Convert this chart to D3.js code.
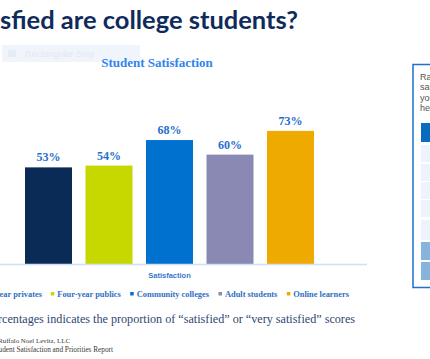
<!DOCTYPE html>
<html><head><meta charset="utf-8">
<script src="https://cdn.jsdelivr.net/npm/d3@7"></script>
<style>html,body{margin:0;padding:0;background:#fff;overflow:hidden}svg{display:block}</style>
</head><body>
<script>
const categories = ["Four-year privates","Four-year publics","Community colleges","Adult students","Online learners"];
const values = [53, 54, 68, 60, 73];
const colors = ["#0b2b57","#c6d800","#0071cf","#8a89b3","#eeaa00"];
const axisLabel = "Satisfaction";
const chartTitle = "Student Satisfaction";
const slideTitle = "How satisfied are college students?";
const footnote = "Percentages indicates the proportion of \u201csatisfied\u201d or \u201cvery satisfied\u201d scores";
const sourceLines = ["Source: Ruffalo Noel Levitz, LLC", "National Student Satisfaction and Priorities Report"];
const panelText = ["Rate your", "satisfaction", "your", "help"];

const W = 430, H = 359;
const svg = d3.select("body").append("svg").attr("width", W).attr("height", H);

// slide title, fitted so the visible part spans to x=298
const visiblePart = "sfied are college students?";
const tmp = svg.append("text").attr("font-family","Lato").attr("font-weight","bold").attr("font-size",24).text(visiblePart);
const wv = tmp.node().getComputedTextLength(); tmp.remove();
const tSize = 24 * 298 / wv;
svg.append("text").attr("x", 298).attr("y", 29).attr("text-anchor","end")
  .attr("font-family","Lato").attr("font-weight","bold").attr("font-size", tSize)
  .attr("fill","#0f2b5b").text(slideTitle);

// faint snip box
svg.append("rect").attr("x",2).attr("y",45).attr("width",138).attr("height",17).attr("fill","#f0f4fb");
svg.append("rect").attr("x",8).attr("y",50).attr("width",8).attr("height",7).attr("fill","#e6ecf4");
svg.append("text").attr("x",25).attr("y",57).attr("font-family","Liberation Sans").attr("font-size",9)
  .attr("fill","#e3e9f1").text("Rectangular Snip");

// chart title
svg.append("text").attr("x",157).attr("y",67).attr("text-anchor","middle")
  .attr("font-family","Liberation Serif").attr("font-weight","bold").attr("font-size",13)
  .attr("fill","#2f84ee").text(chartTitle);

const x = d3.scaleBand().domain(categories).range([25, 314]).paddingInner(0.223).paddingOuter(0);
const y = d3.scaleLinear().domain([0, 100]).range([264, 81.7]);

svg.selectAll("rect.bar").data(categories).join("rect").attr("class","bar")
  .attr("x", d => x(d)).attr("width", x.bandwidth())
  .attr("y", (d,i) => y(values[i])).attr("height", (d,i) => y(0) - y(values[i]))
  .attr("fill", (d,i) => colors[i]);

svg.selectAll("text.lab").data(categories).join("text").attr("class","lab")
  .attr("x", d => x(d) + x.bandwidth()/2).attr("y", (d,i) => y(values[i]) - 6)
  .attr("text-anchor","middle").attr("font-family","Liberation Serif").attr("font-weight","bold")
  .attr("font-size",12).attr("fill","#1f6fcf").text((d,i) => values[i] + "%");

// baseline axis
svg.append("line").attr("x1",0).attr("x2",367).attr("y1",264.5).attr("y2",264.5)
  .attr("stroke","#cfe0f6").attr("stroke-width",1.5);
svg.append("text").attr("x",169.5).attr("y",278).attr("text-anchor","middle")
  .attr("font-family","Liberation Sans").attr("font-weight","bold").attr("font-size",7.5)
  .attr("fill","#3a78c8").text(axisLabel);

// legend
const legendTextX = [-30, 57.3, 136.7, 225, 293.3];
const lg = svg.append("g");
categories.forEach((c,i) => {
  const t = lg.append("text").attr("y",297).attr("font-family","Liberation Serif").attr("font-weight","bold")
    .attr("font-size",8.4).attr("fill","#2f6fc4").text(c);
  let tx = legendTextX[i];
  if (i === 0) { tx = 42 - t.node().getComputedTextLength(); }
  t.attr("x", tx);
  lg.append("rect").attr("x", tx - 6.5).attr("y", 292).attr("width",3.5).attr("height",3.5).attr("fill", colors[i]);
});

// footnote
svg.append("text").attr("x",355).attr("y",323).attr("text-anchor","end")
  .attr("font-family","Liberation Serif").attr("font-size",12.15).attr("fill","#2e4774").text(footnote);
svg.append("text").attr("x",70).attr("y",343).attr("text-anchor","end")
  .attr("font-family","Liberation Serif").attr("font-size",6.9).attr("fill","#3a3a3a").text(sourceLines[0]);
svg.append("text").attr("x",113).attr("y",352).attr("text-anchor","end")
  .attr("font-family","Liberation Serif").attr("font-size",7.25).attr("fill","#3a3a3a").text(sourceLines[1]);

// right panel
svg.append("rect").attr("x",413).attr("y",64.5).attr("width",40).attr("height",223)
  .attr("fill","#fff").attr("stroke","#1f6fcf").attr("stroke-width",1.5);
panelText.forEach((t,i) => {
  svg.append("text").attr("x",420).attr("y",80 + i*10.3).attr("font-family","Liberation Sans")
    .attr("font-size",9).attr("fill","#555").text(t);
});
svg.append("rect").attr("x",421).attr("y",123).attr("width",20).attr("height",19).attr("fill","#0a6cc0");
[145, 164, 182, 200, 220].forEach((yy,i) => {
  svg.append("rect").attr("x",421).attr("y",yy).attr("width",20).attr("height",i<4?17:20).attr("fill","#eef2fa");
});
svg.append("rect").attr("x",421).attr("y",242).attr("width",20).attr("height",18).attr("fill","#85b5dd");
svg.append("rect").attr("x",421).attr("y",262).attr("width",20).attr("height",18).attr("fill","#85b5dd");
</script>
</body></html>
